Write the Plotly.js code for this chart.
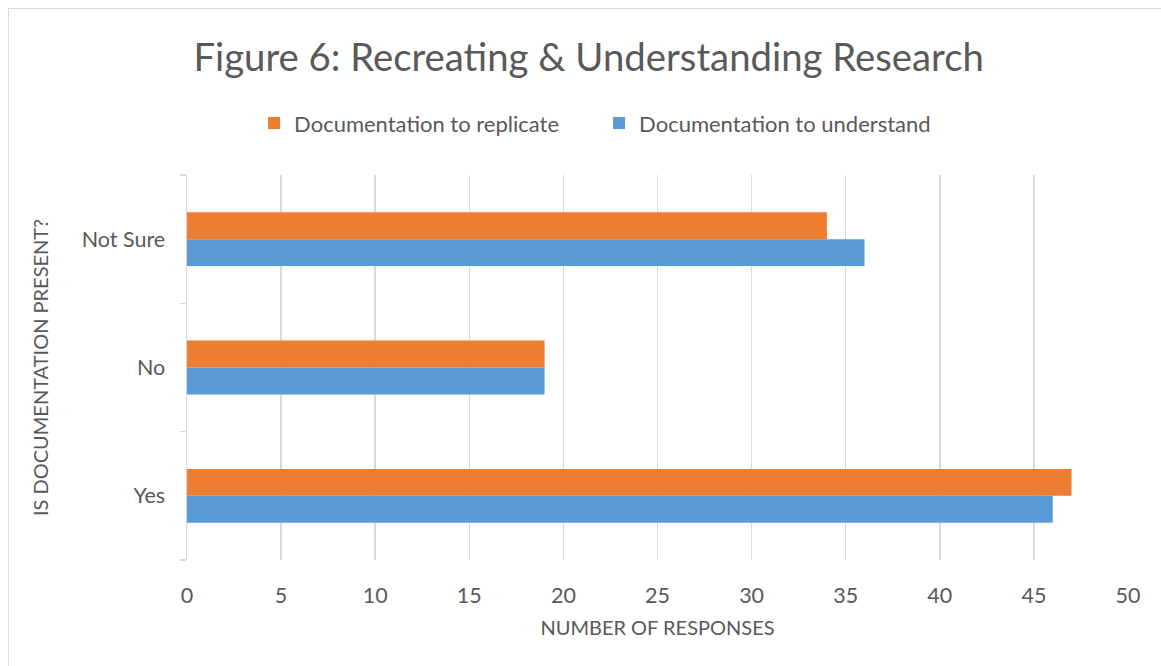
<!DOCTYPE html>
<html>
<head>
<meta charset="utf-8">
<script src="https://cdn.plot.ly/plotly-3.0.1.min.js"></script>
<style>
  body { margin: 0; background: #fff; }
  #wrap { position: relative; width: 1161px; height: 666px; overflow: hidden; }
  #chart { width: 1161px; height: 666px; }
  #frame {
    position: absolute; left: 8px; top: 8px; width: 1200px; height: 700px;
    border-left: 1px solid #d9d9d9; border-top: 1px solid #d9d9d9;
    pointer-events: none;
  }
</style>
</head>
<body>
<div id="wrap">
  <div id="chart"></div>
  <div id="frame"></div>
</div>
<script>
// categories bottom to top
const categories = ['Yes', 'No', 'Not Sure']
const understand = [46, 19, 36]
const replicate = [47, 19, 34]

const txt = '#595959'
const fontFam = 'Lato, "Open Sans", sans-serif'

const traces = [
    {
        y: categories,
        x: understand,
        type: 'bar',
        orientation: 'h',
        name: 'Documentation to understand',
        marker: { color: '#5B9BD5' },
        hoverinfo: 'x+name'
    },
    {
        y: categories,
        x: replicate,
        type: 'bar',
        orientation: 'h',
        name: 'Documentation to replicate',
        marker: { color: '#ED7D31' },
        hoverinfo: 'x+name'
    }
]

const layout = {
    width: 1161,
    height: 666,
    paper_bgcolor: '#fff',
    plot_bgcolor: '#fff',
    font: { family: fontFam, color: txt, size: 22 },
    margin: { l: 187, r: 33, t: 175, b: 106 },
    barmode: 'group',
    bargap: 0.58,
    bargroupgap: 0,
    showlegend: true,
    title: {
        text: 'Figure 6: Recreating &amp; Understanding Research',
        font: { size: 38.3, color: txt, family: fontFam },
        xref: 'container', x: 0.507, xanchor: 'center',
        yref: 'container', y: 0.914, yanchor: 'middle'
    },
    legend: {
        orientation: 'h',
        traceorder: 'reversed',
        xref: 'container', x: 0.516, xanchor: 'center',
        yref: 'container', y: 0.815, yanchor: 'middle',
        font: { size: 22, color: txt },
        itemwidth: 30,
        entrywidth: 300,
        entrywidthmode: 'pixels'
    },
    xaxis: {
        range: [0, 50],
        dtick: 5,
        tick0: 0,
        showgrid: true,
        gridcolor: '#d9d9d9',
        gridwidth: 1.5,
        zeroline: false,
        showline: false,
        ticks: '',
        ticklabelstandoff: 20,
        tickfont: { size: 21.5, color: txt },
        title: {
            text: 'NUMBER OF RESPONSES',
            font: { size: 20, color: txt },
            standoff: 14
        },
        fixedrange: true
    },
    yaxis: {
        type: 'category',
        showgrid: false,
        zeroline: false,
        showline: true,
        linecolor: '#d9d9d9',
        linewidth: 1.5,
        ticks: 'outside',
        tickson: 'boundaries',
        ticklen: 6,
        tickcolor: '#d9d9d9',
        tickwidth: 1.5,
        ticklabelstandoff: 16,
        tickfont: { size: 21.5, color: txt },
        title: {
            text: 'IS DOCUMENTATION PRESENT?',
            font: { size: 20, color: txt },
            standoff: 27
        },
        fixedrange: true
    }
}

Plotly.newPlot('chart', traces, layout, { displayModeBar: false, staticPlot: true })
</script>
</body>
</html>
